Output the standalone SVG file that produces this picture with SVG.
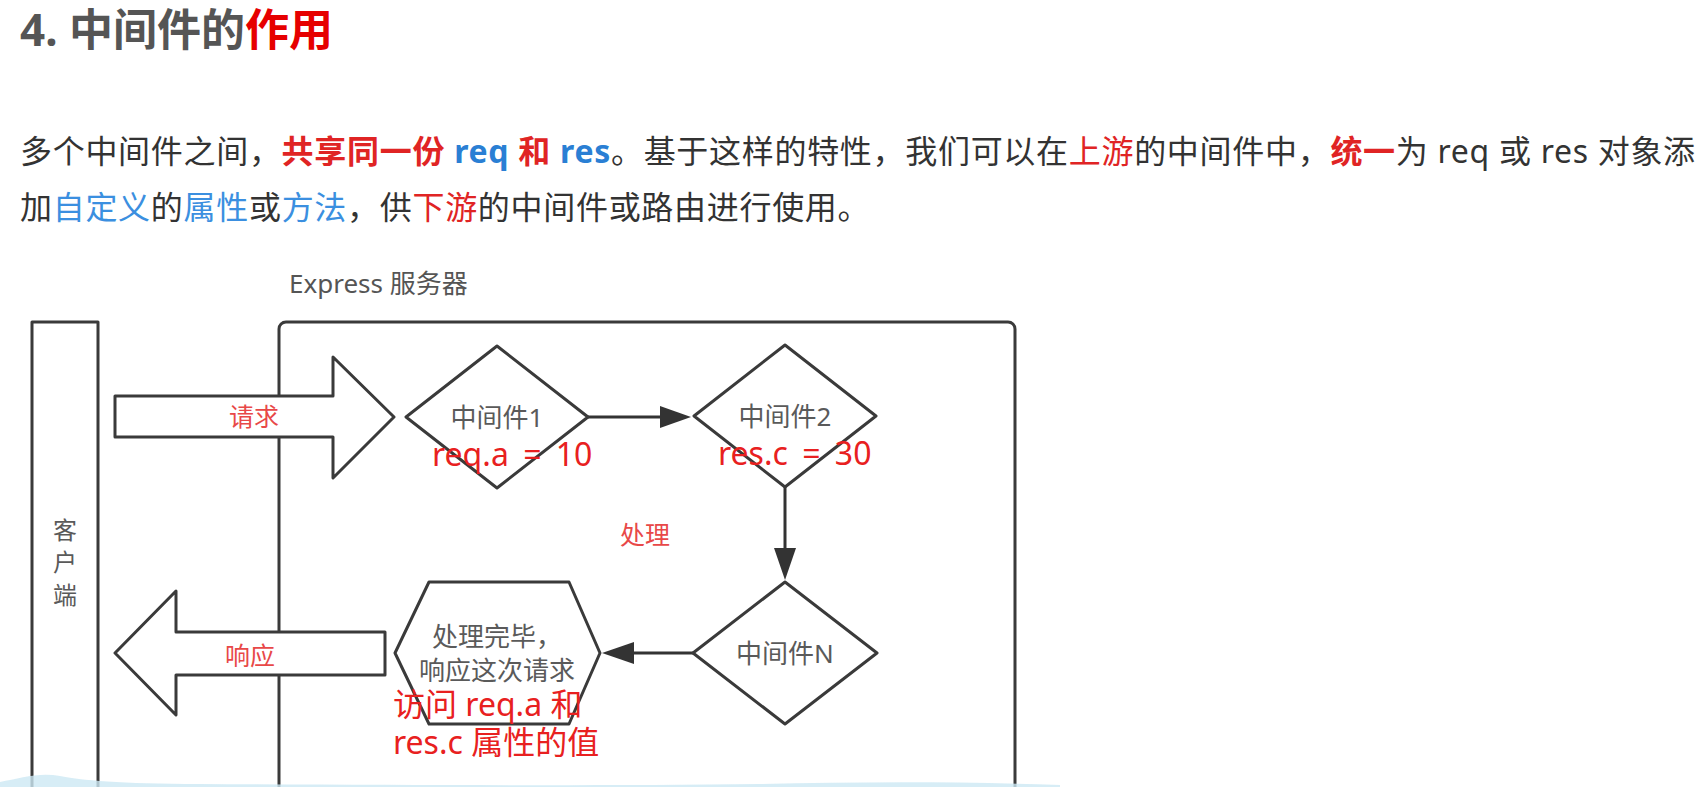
<svg xmlns="http://www.w3.org/2000/svg" width="1706" height="787" viewBox="0 0 1706 787">
<style>
text{font-family:"Noto Sans","Noto Sans CJK SC",sans-serif}
.t{font-size:44px;font-weight:bold;fill:#555}
.p{font-size:32px;fill:#333;letter-spacing:0.7px}
.r{fill:#e02424}
.rb{fill:#e02424;font-weight:bold}
.bb{fill:#2a7fd4;font-weight:bold}
.b{fill:#3b8fe0}
.shape{fill:#fff;stroke:#3a3a3a;stroke-width:3;stroke-linejoin:round}
.lbl{font-size:26px;fill:#5a5a5a;text-anchor:middle}
.cl{font-size:24px;fill:#5a5a5a;text-anchor:middle}
.rl{font-size:25px;fill:#e84848;text-anchor:middle}
.big{font-size:32px;fill:#e82020}
.eq{word-spacing:6px}
.ln{stroke:#333;stroke-width:3;fill:none}
.ah{fill:#333}
</style>
<rect width="1706" height="787" fill="#fff"/>
<g id="title">
<text x="20" y="46" class="t">4. 中间件的<tspan fill="#e60000">作用</tspan></text>
</g>
<g id="paragraph">
<text x="20" y="163" class="p">多个中间件之间，<tspan class="rb">共享同一份</tspan> <tspan class="bb">req</tspan> <tspan class="rb">和</tspan> <tspan class="bb">res</tspan>。基于这样的特性，我们可以在<tspan class="r">上游</tspan>的中间件中，<tspan class="rb">统一</tspan>为 req 或 res 对象添</text>
<text x="20" y="219" class="p">加<tspan class="b">自定义</tspan>的<tspan class="b">属性</tspan>或<tspan class="b">方法</tspan>，供<tspan class="r">下游</tspan>的中间件或路由进行使用。</text>
</g>
<g id="server">
<text x="289" y="293" font-size="26" fill="#555">Express 服务器</text>
<rect x="279" y="322" width="736" height="520" rx="7" class="shape"/>
<text x="645" y="544" class="rl">处理</text>
</g>
<g id="client">
<rect x="32" y="322" width="66" height="520" class="shape"/>
<text x="65" y="539" class="cl">客</text>
<text x="65" y="571" class="cl">户</text>
<text x="65" y="604" class="cl">端</text>
</g>
<g id="request">
<polygon points="115,396 333,396 333,357 394,417 333,478 333,437 115,437" class="shape"/>
<text x="254" y="426" class="rl">请求</text>
</g>
<g id="response">
<polygon points="385,632 176,632 176,591 115,653 176,715 176,675 385,675" class="shape"/>
<text x="250" y="665" class="rl">响应</text>
</g>
<g id="connectors">
<line x1="588" y1="417" x2="664" y2="417" class="ln"/>
<polygon points="691,417 660,406 660,428" class="ah"/>
<line x1="785" y1="487" x2="785" y2="552" class="ln"/>
<polygon points="785,580 774,548 796,548" class="ah"/>
<line x1="693" y1="653" x2="630" y2="653" class="ln"/>
<polygon points="602,653 634,642 634,664" class="ah"/>
</g>
<g id="mw1">
<polygon points="497,346 588,417 497,488 406,417" class="shape"/>
<text x="497" y="427" class="lbl">中间件1</text>
<text x="432" y="466" class="big eq">req.a = 10</text>
</g>
<g id="mw2">
<polygon points="785,345 876,416 785,487 694,416" class="shape"/>
<text x="785" y="426" class="lbl">中间件2</text>
<text x="718" y="465" class="big eq">res.c = 30</text>
</g>
<g id="mwN">
<polygon points="785,582 877,653 785,724 693,653" class="shape"/>
<text x="785" y="663" class="lbl">中间件N</text>
</g>
<g id="done">
<polygon points="429,582 569,582 600,653 569,724 429,724 395,653" class="shape"/>
<text x="497" y="646" class="lbl" font-size="24">处理完毕，</text>
<text x="497" y="680" class="lbl" font-size="24">响应这次请求</text>
<text x="393" y="716" class="big">访问 req.a 和</text>
<text x="393" y="754" class="big">res.c 属性的值</text>
</g>
<g id="band">
<path d="M0,787 L0,782 C20,778 40,772 60,776 C80,780 120,784 200,784 C400,785 600,786 760,784 C850,782 950,781 1060,785 L1060,787 Z" fill="#cde9f4" opacity="0.8"/>
</g>
</svg>
